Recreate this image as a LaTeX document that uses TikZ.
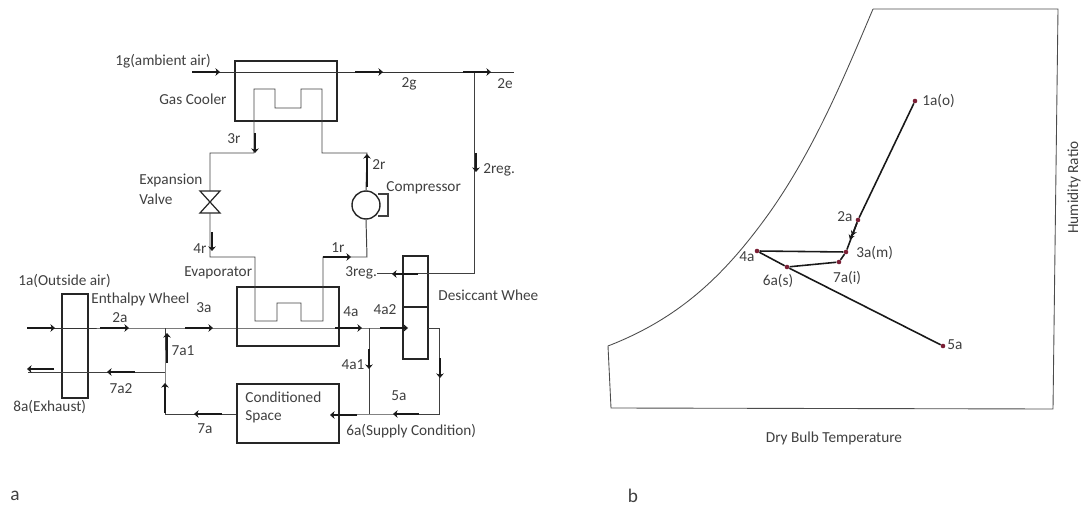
\documentclass[tikz,border=0pt]{standalone}
\usepackage{fontspec}
\setmainfont{Carlito}
\usetikzlibrary{arrows.meta}
\definecolor{inktext}{HTML}{404040}
\definecolor{ptred}{HTML}{7A1F35}
\tikzset{
  lbl/.style={font=\fontsize{8.7}{9}\selectfont,text=inktext,inner sep=0pt},
  unit/.style={draw=black!85,line width=.9pt,inner sep=0pt},
  pipe/.style={draw=black!75,line width=.55pt},
  air/.style={draw=black!80,line width=.5pt},
  flow/.style={line width=1.7pt,black!90,-{Stealth[length=2.6pt,width=4.4pt]}},
  chart/.style={draw=black!70,line width=.5pt},
  proc/.style={draw=black!90,line width=.9pt},
  pt/.style={circle,fill=ptred,inner sep=0pt,minimum size=2.6pt}
}
\begin{document}
\begin{tikzpicture}[x=.02cm,y=-.02cm]
\clip (0,0) rectangle (1082,510);
% units
\node[unit,minimum width=2.04cm,minimum height=1.2cm] (cooler) at (286,91) {};
\node[unit,minimum width=2.04cm,minimum height=1.18cm] (evap) at (288,316.5) {};
\node[unit,minimum width=2.04cm,minimum height=1.18cm] (space) at (288,413.5) {};
\node[unit,minimum width=.52cm,minimum height=2.08cm] (wheel) at (75,346) {};
\node[unit,minimum width=.5cm,minimum height=2.06cm] (desic) at (415.5,307.5) {};
\draw[unit] (desic.west |- 0,307) coordinate (dl) -- (desic.east |- dl);
\node[circle,draw=black!85,line width=.8pt,minimum size=.56cm,inner sep=0pt] (comp) at (366,205) {};
\coordinate (valve) at (210,202);
\draw[unit,line width=.7pt] (valve)++(-10,-11) --++(20,0) --++(-20,22) --++(20,0) --cycle;
\draw[pipe,line width=.7pt] (378,194) --(388,194) --(388,216) --(378,216);
% refrigerant side
\coordinate (r1) at (254,89);\coordinate (r2) at (254,153);\coordinate (r3) at (210,153);
\coordinate (r4) at (210,257);\coordinate (r5) at (255,257);\coordinate (r6) at (323,257);
\coordinate (r7) at (367,257);\coordinate (r8) at (322,89);\coordinate (r9) at (322,153);
\coordinate (r10) at (367,153);
\draw[pipe] (valve)++(0,-11) -- (r3) -- (r2) -- (r1) --(275,89) --(275,108) --(301,108) --(301,89) -- (r8) -- (r9) -- (r10) -- (comp.north);
\draw[pipe] (valve)++(0,11) -- (r4) -- (r5) --(255,321) --(277,321) --(277,303) --(301,303) --(301,321) --(323,321) -- (r6) -- (r7) -- (comp.south);
% air side
\coordinate (g0) at (192,72);\coordinate (g1) at (474,72);\coordinate (g2) at (514,72);
\coordinate (g3) at (474,273);\coordinate (g4) at (377,273);
\coordinate (a0) at (27,328);\coordinate (a1) at (165,328);\coordinate (a2) at (369,328);
\coordinate (a3) at (428,328);\coordinate (a4) at (439,328);\coordinate (a5) at (439,414);
\coordinate (a6) at (369,414);\coordinate (a7) at (165,414);\coordinate (a8) at (165,372);
\coordinate (a9) at (28,372);
\draw[air] (g0) -- (g2);
\draw[pipe] (g1) -- (g3) -- (g4);
\draw[air] (a0) -- (a1) -- (a2) -- (desic.west |- a2);
\draw[pipe] (a3) -- (a4) -- (a5) -- (a6) -- (space.east |- a6);
\draw[pipe] (a2) -- (a6);
\draw[pipe] (a1) -- (a8) -- (a7) -- (space.west |- a7);
\draw[pipe] (a8) -- (a9);
% flow marks
\foreach \n/\xa/\ya/\xb/\yb in {
  a/192/72/220/72,b/355/72/383/72,c/463/72/491/72,d/476/153/476/172,e/418/274/392/274,
  f/255/133/255/153,g/367/187/367/154,h/212/232/212/251,i/323/257/351/257,
  j/27/328/55/328,k/100/328/129/328,l/185/328/213/328,m/167/363/167/333,
  n/54/369/27/369,o/135/372/107/372,p/165/413/165/383,q/222/414/194/414,
  r/335/328/362/328,s/380/328/408/328,t/369/349/369/369,u/440/358/440/378,
  v/419/414/393/414,w/357/415/330/415}{
  \coordinate (fa\n) at (\xa,\ya);\coordinate (fb\n) at (\xb,\yb);
  \draw[flow] (fa\n) -- (fb\n);
}
% labels a
\foreach \n/\x/\y/\t in {
  l1/115/61/1g(ambient air),l2/159/99/Gas Cooler,l3/139/180/Expansion,l4/139/199/Valve,
  l5/184/273/Evaporator,l6/18/281/1a(Outside air),l7/91/299/Enthalpy Wheel,
  l8/13/407/8a(Exhaust),l9/245/397/Conditioned,l10/245/417/Space,l11/346/431/6a(Supply Condition),
  l12/438/295/Desiccant Whee,l13/483/170/2reg.,l14/386/188/Compressor,l15/345/273/3reg.}{
  \node[lbl,anchor=west] (\n) at (\x,\y) {\t};
}
\foreach \n/\x/\y/\t in {
  c1/234/139/3r,c2/200/249/4r,c3/120/318/2a,c4/204/308/3a,c5/183/351/7a1,c6/121/389/7a2,
  c7/205/429/7a,c8/351/312/4a,c9/385/310/4a2,c10/353/365/4a1,c11/399/396/5a,c12/409/84/2g,
  c13/505/84/2e,c14/379/165/2r,c15/338/248/1r}{
  \node[lbl] (\n) at (\x,\y) {\t};
}
% chart b
\coordinate (o1) at (608,346);\coordinate (o2) at (611,408);\coordinate (o3) at (1053,409);
\coordinate (o4) at (1058,9);\coordinate (o5) at (873,9);
\draw[chart] (o5) -- (o4) -- (o3) -- (o2) -- (o1)
  .. controls (680,318) and (725,275) .. (770,212) .. controls (815,148) and (845,75) .. (o5);
\node[pt] (p1) at (915,101) {};\node[pt] (p2) at (858,220) {};\node[pt] (p3) at (846,252) {};
\node[pt] (p7) at (839,262) {};\node[pt] (p6) at (787,267) {};\node[pt] (p4) at (757,251) {};
\node[pt] (p5) at (943,346) {};
\draw[proc] (p1) -- (p2) -- (p3) -- (p7) -- (p6);
\draw[proc] (p4) -- (p3);
\draw[proc] (p4) -- (p6) -- (p5);
\draw[proc,-{Stealth[length=3pt,width=3.5pt]}] (p2) -- (852,236);
\draw[proc,-{Stealth[length=3pt,width=3.5pt]}] (852,234) -- (850,240);
\foreach \n/\x/\y/\t in {t1/922/101/1a(o),t2/856/253/3a(m),t3/947/345/5a}{
  \node[lbl,anchor=west] (\n) at (\x,\y) {\t};
}
\foreach \n/\x/\y/\t in {t4/845/217/2a,t5/847/278/7a(i),t6/778/281/6a(s),t7/747/257/4a,t8/834/438/Dry Bulb Temperature}{
  \node[lbl] (\n) at (\x,\y) {\t};
}
\node[lbl,rotate=90,anchor=south west] (ratio) at (1081,234) {Humidity Ratio};
\node[lbl,font=\fontsize{11}{12}\selectfont] (capa) at (15,496) {a};
\node[lbl,font=\fontsize{11}{12}\selectfont] (capb) at (633,496) {b};
\end{tikzpicture}
\end{document}
